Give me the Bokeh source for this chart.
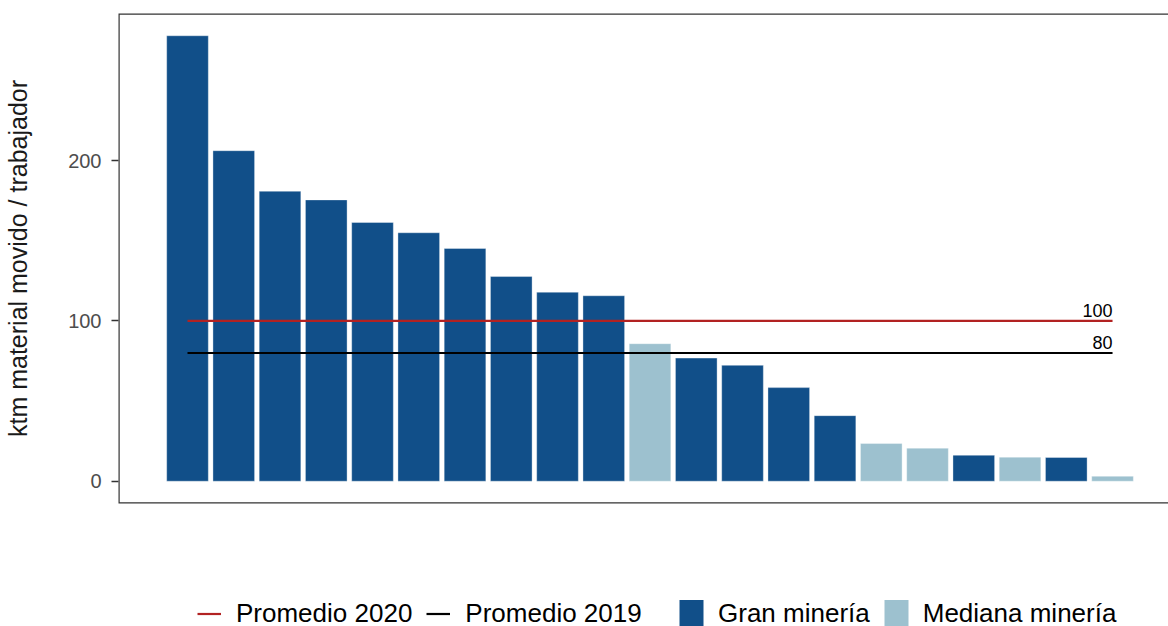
from bokeh.plotting import figure
from bokeh.layouts import column
from bokeh.models import (Range1d, FixedTicker, Legend, LegendItem,
                          ColumnDataSource, BoxAnnotation)
from bokeh.core.properties import value
from bokeh.embed import file_html
from bokeh.resources import INLINE

# ---- data ----
positions = list(range(1, 22))
values = [277.9, 206.2, 180.9, 175.5, 161.4, 155.0, 145.2, 127.7, 117.9, 115.7,
          85.8, 76.8, 72.3, 58.4, 40.9, 23.5, 20.6, 16.2, 15.0, 14.8, 3.1]
segment = ["Gran minería"] * 10 + ["Mediana minería"] + ["Gran minería"] * 4 + \
          ["Mediana minería", "Mediana minería", "Gran minería", "Mediana minería",
           "Gran minería", "Mediana minería"]
avg_2020 = 100
avg_2019 = 80
y_ticks = [0, 100, 200]
y_title = "ktm material movido / trabajador"
seg_names = ["Gran minería", "Mediana minería"]
avg_names = ["Promedio 2020", "Promedio 2019"]

seg_colors = {"Gran minería": "#114f89", "Mediana minería": "#9dc1cf"}
avg_colors = {"Promedio 2020": "#b22222", "Promedio 2019": "black"}
FONT = "Liberation Sans"
NAN = float("nan")

x_start, x_end = -0.492, 22.21

p = figure(width=1168, height=540, output_backend="svg", toolbar_location=None,
           x_range=Range1d(x_start, x_end), y_range=Range1d(-13.9, 291.8),
           min_border_left=118, min_border_top=13, min_border_right=0,
           min_border_bottom=37, x_axis_location=None)
p.outline_line_color = None
p.xgrid.grid_line_color = None
p.ygrid.grid_line_color = None
p.background_fill_color = "white"
p.border_fill_color = "white"

# panel border (top, left, bottom; right edge lies outside the view)
p.add_layout(BoxAnnotation(left=x_start, right=x_end + 1, fill_alpha=0,
                           line_color="#333333", line_alpha=1, line_width=2.4))

for seg in seg_names:
    xs = [x for x, s in zip(positions, segment) if s == seg]
    ys = [v for v, s in zip(values, segment) if s == seg]
    src = ColumnDataSource(dict(x=xs, top=ys))
    p.vbar(x="x", top="top", bottom=0, width=0.9, source=src,
           fill_color=seg_colors[seg], line_color="white",
           line_alpha=0.35, line_width=1)

x_first, x_last = positions[0], positions[-1]
p.line([x_first, x_last], [avg_2020, avg_2020], line_color=avg_colors["Promedio 2020"], line_width=2.2)
p.line([x_first, x_last], [avg_2019, avg_2019], line_color=avg_colors["Promedio 2019"], line_width=2.2)

p.text(x=[x_last, x_last], y=[avg_2020, avg_2019], text=[str(avg_2020), str(avg_2019)],
       text_align="right", text_baseline="alphabetic", y_offset=-10,
       text_font=value(FONT), text_font_size="18px", text_color="black")

# left axis
yax = p.yaxis[0]
yax.ticker = FixedTicker(ticks=y_ticks)
yax.minor_tick_line_color = None
yax.major_tick_in = 0
yax.major_tick_out = 7
yax.major_tick_line_color = "#333333"
yax.major_tick_line_width = 1.5
yax.axis_line_color = None
yax.major_label_standoff = 10
yax.major_label_text_font = FONT
yax.major_label_text_font_size = "20px"
yax.major_label_text_color = "#4d4d4d"
yax.axis_label = y_title
yax.axis_label_text_font = FONT
yax.axis_label_text_font_size = "25px"
yax.axis_label_text_font_style = "normal"
yax.axis_label_text_color = "#1a1a1a"
yax.axis_label_standoff = 33

# ---- legend strip below the panel ----
q = figure(width=1168, height=86, output_backend="svg", toolbar_location=None,
           x_range=Range1d(0, 1), y_range=Range1d(0, 1),
           min_border=0, x_axis_location=None, y_axis_location=None)
q.outline_line_color = None
q.xgrid.grid_line_color = None
q.ygrid.grid_line_color = None
q.border_fill_color = "white"

# legend proxies (NaN data: nothing drawn in the strip itself)
avg_items = [LegendItem(label=n, renderers=[q.line(x=[NAN], y=[NAN], line_color=avg_colors[n],
                                                   line_width=2.2)])
             for n in avg_names]
seg_items = [LegendItem(label=n, renderers=[q.vbar(x=[NAN], top=[NAN], width=1,
                                                   fill_color=seg_colors[n], line_color=None)])
             for n in seg_names]

leg1 = Legend(items=avg_items, orientation="horizontal", location=(79, -5),
              glyph_width=24, label_standoff=15, spacing=14)
leg2 = Legend(items=seg_items, orientation="horizontal", location=(558, -5),
              glyph_width=30, label_standoff=12, spacing=11)
for lg in (leg1, leg2):
    lg.glyph_height = 35
    lg.padding = 0
    lg.margin = 0
    lg.border_line_color = None
    lg.background_fill_alpha = 0
    lg.label_text_font = FONT
    lg.label_text_font_size = "26px"
    lg.label_text_color = "black"
    q.add_layout(lg, "center")

layout = column(p, q, spacing=0)
open("out.html", "w").write(file_html(layout, INLINE))
